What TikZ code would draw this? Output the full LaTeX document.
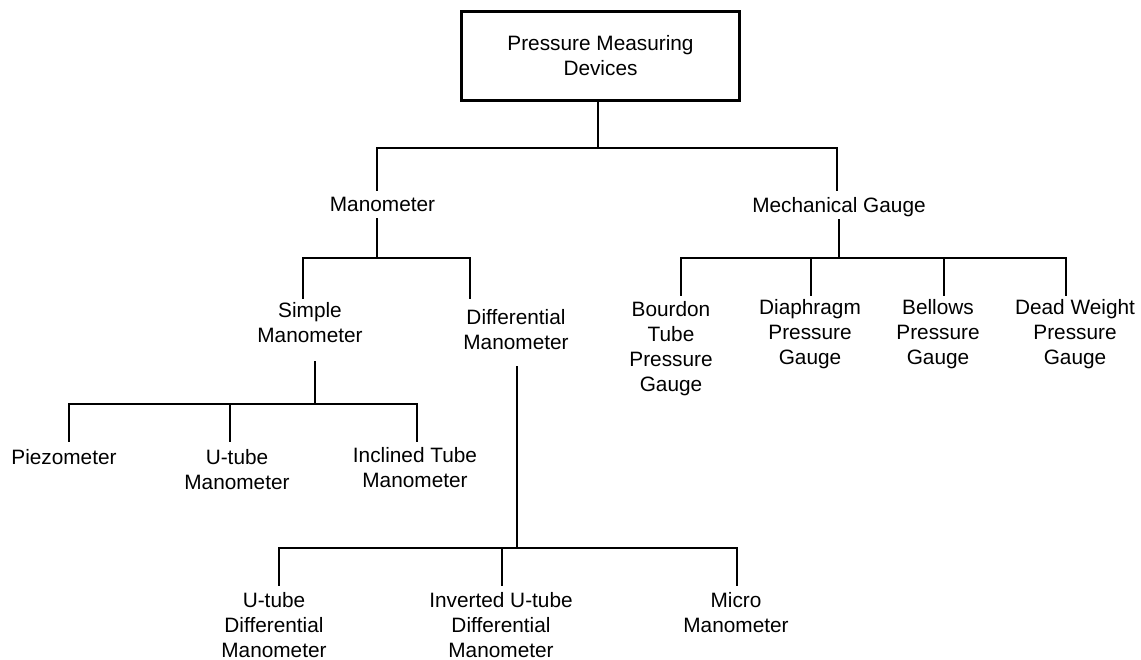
\documentclass[tikz,border=0pt]{standalone}
\usepackage{fontspec}
\setmainfont{Liberation Sans}
\begin{document}
\begin{tikzpicture}[x=1pt,y=-1pt,
  lbl/.style={font=\fontsize{20.8}{25}\selectfont, align=center, inner sep=0pt, anchor=north},
  conn/.style={line width=2.7pt, line join=miter, line cap=rect},
  rootbox/.style={draw, line width=3.2pt, minimum width=278pt, minimum height=89pt, inner sep=0pt,
                  font=\fontsize{20.8}{25}\selectfont, align=center}]
\useasboundingbox (0,0) rectangle (1141,660);

% nodes
\node[rootbox] (top) at (600.5,56) {Pressure Measuring\\Devices};
\node[lbl] (man)  at (382.5,197) {Manometer};
\node[lbl] (mech) at (839,197) {Mechanical Gauge};
\node[lbl] (sm) at (310,302) {Simple\\Manometer};
\node[lbl] (dm) at (516,309) {Differential\\Manometer};
\node[lbl] (pz) at (64,449) {Piezometer};
\node[lbl] (ut) at (237,449) {U-tube\\Manometer};
\node[lbl] (it) at (415,447) {Inclined Tube\\Manometer};
\node[lbl] (ud) at (274,592) {U-tube\\Differential\\Manometer};
\node[lbl] (iu) at (501,592) {Inverted U-tube\\Differential\\Manometer};
\node[lbl] (mm) at (736,592) {Micro\\Manometer};
\node[lbl] (bt) at (671,301) {Bourdon\\Tube\\Pressure\\Gauge};
\node[lbl] (dp) at (810,299) {Diaphragm\\Pressure\\Gauge};
\node[lbl] (bp) at (938,299) {Bellows\\Pressure\\Gauge};
\node[lbl] (dw) at (1075,299) {Dead Weight\\Pressure\\Gauge};

% junction coordinates
\coordinate (t-bar) at (598,148);
\coordinate (man-in) at (377,190);
\coordinate (mech-in) at (837,190);
\coordinate (man-out) at (377,219);
\coordinate (man-bar) at (377,258);
\coordinate (sm-in) at (303,298);
\coordinate (dm-in) at (470,298);
\coordinate (mech-out) at (839,220);
\coordinate (mech-bar) at (839,258);
\coordinate (bt-in) at (681,295);
\coordinate (dp-in) at (811,295);
\coordinate (bp-in) at (944,295);
\coordinate (dw-in) at (1066,295);
\coordinate (sm-out) at (315,362);
\coordinate (sm-bar) at (315,404);
\coordinate (pz-in) at (69,441);
\coordinate (ut-in) at (230,441);
\coordinate (it-in) at (417,441);
\coordinate (dm-out) at (517,367);
\coordinate (dm-bar) at (517,548);
\coordinate (ud-in) at (279,585);
\coordinate (iu-in) at (502,585);
\coordinate (mm-in) at (737,585);

% connectors
\draw[conn] (top.south -| t-bar) -- (t-bar);
\draw[conn] (man-in) |- (t-bar) -| (mech-in);

\draw[conn] (man-out) -- (man-bar);
\draw[conn] (sm-in) |- (man-bar) -| (dm-in);

\draw[conn] (mech-out) -- (mech-bar);
\draw[conn] (bt-in) |- (mech-bar) -| (dw-in);
\draw[conn] (dp-in) -- (dp-in |- mech-bar);
\draw[conn] (bp-in) -- (bp-in |- mech-bar);

\draw[conn] (sm-out) -- (sm-bar);
\draw[conn] (pz-in) |- (sm-bar) -| (it-in);
\draw[conn] (ut-in) -- (ut-in |- sm-bar);

\draw[conn] (dm-out) -- (dm-bar);
\draw[conn] (ud-in) |- (dm-bar) -| (mm-in);
\draw[conn] (iu-in) -- (iu-in |- dm-bar);
\end{tikzpicture}
\end{document}
